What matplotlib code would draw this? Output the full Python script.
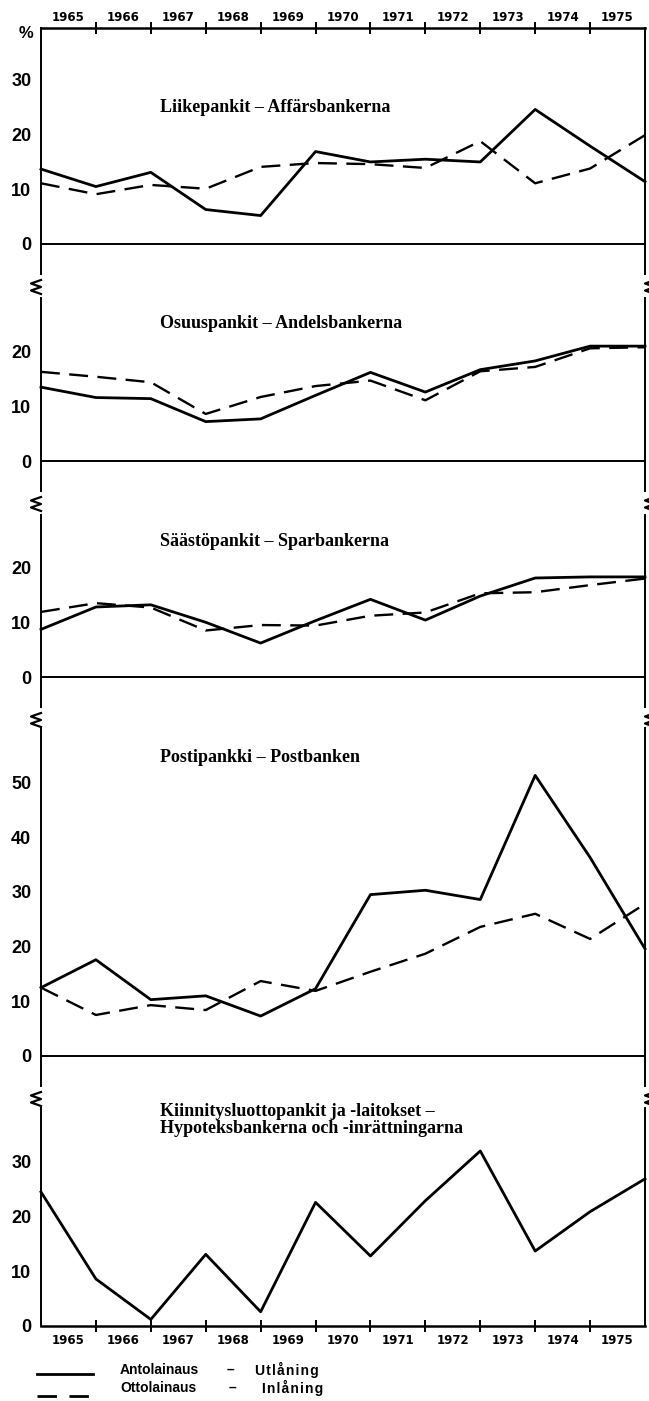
#!/usr/bin/env python3
"""Pankkiryhmien antolainauksen ja ottolainauksen vuosimuutos 1965-1975, %."""
import matplotlib
matplotlib.use("Agg")
import matplotlib.pyplot as plt
from matplotlib.lines import Line2D

plt.rcParams["font.family"] = ["Liberation Sans", "DejaVu Sans"]
plt.rcParams["font.weight"] = "bold"

years = ["1965", "1966", "1967", "1968", "1969", "1970",
         "1971", "1972", "1973", "1974", "1975"]
pts = list(range(12))  # vuosien rajakohdat

liike_out = [13.7, 10.5, 13.1, 6.3, 5.2, 16.9, 15.0, 15.5, 15.0, 24.6, 17.9, 11.4]
liike_in = [11.1, 9.1, 10.8, 10.1, 14.1, 14.8, 14.6, 13.9, 18.8, 11.1, 13.8, 19.9]
osuus_out = [13.5, 11.6, 11.4, 7.2, 7.7, 12.0, 16.2, 12.6, 16.7, 18.3, 21.0, 21.0]
osuus_in = [16.3, 15.4, 14.4, 8.6, 11.7, 13.7, 14.7, 11.1, 16.4, 17.2, 20.6, 20.8]
saasto_out = [8.7, 12.8, 13.2, 10.0, 6.2, 10.3, 14.2, 10.4, 14.8, 18.1, 18.3, 18.3]
saasto_in = [11.9, 13.5, 12.7, 8.5, 9.5, 9.4, 11.2, 11.8, 15.3, 15.5, 16.8, 18.0]
posti_out = [12.5, 17.6, 10.3, 11.0, 7.3, 12.3, 29.5, 30.3, 28.6, 51.3, 36.3, 19.6]
posti_in = [12.5, 7.5, 9.3, 8.4, 13.7, 11.9, 15.4, 18.7, 23.6, 26.0, 21.4, 27.8]
kiinn_out = [24.5, 8.6, 1.2, 13.1, 2.6, 22.6, 12.8, 22.9, 32.0, 13.7, 20.9, 26.9]

titles = ["Liikepankit – Affärsbankerna",
          "Osuuspankit – Andelsbankerna",
          "Säästöpankit – Sparbankerna",
          "Postipankki – Postbanken",
          "Kiinnitysluottopankit ja -laitokset –\nHypoteksbankerna och -inrättningarna"]
outs = [liike_out, osuus_out, saasto_out, posti_out, kiinn_out]
ins = [liike_in, osuus_in, saasto_in, posti_in, None]
yticks = [[0, 10, 20, 30], [0, 10, 20], [0, 10, 20],
          [0, 10, 20, 30, 40, 50], [0, 10, 20, 30]]
title_y = [25.0, 25.2, 24.8, 54.5, 37.6]

# asettelu pikseleinä: akselin yläpää ja nollaviiva
W, H = 649, 1401
LEFT, RIGHT = 41, 645
SCALE = 5.47        # px / prosenttiyksikkö
BREAK = 43          # nollaviivasta katkomerkkiin
SPINE_END = 30      # pystyviiva jatkuu nollan alle
layout = [(28, 244), (298, 461), (515, 677), (728, 1056), (1108, 1326)]


def squiggle(fig, cx, cy):
    xs = [cx + 5, cx - 5, cx + 5, cx - 5, cx + 5]
    ys = [cy - 7, cy - 3.5, cy, cy + 3.5, cy + 7]
    fig.add_artist(Line2D([x / W for x in xs], [1 - y / H for y in ys],
                          color="black", lw=1.6, transform=fig.transFigure))


def spaced(word):
    # harva kirjainväli kuten alkuperäisessä selitteessä
    return "\u200a".join(word)


def main():
    fig = plt.figure(figsize=(W / 100, H / 100), dpi=100)
    n = len(titles)
    for i in range(n):
        top, zero = layout[i]
        last = i == n - 1
        bottom = zero if last else zero + BREAK
        ax = fig.add_axes([LEFT / W, 1 - bottom / H,
                           (RIGHT - LEFT) / W, (bottom - top) / H])
        ymin, ymax = -(bottom - zero) / SCALE, (zero - top) / SCALE
        ax.set_xlim(0, 11)
        ax.set_ylim(ymin, ymax)

        ax.plot(pts, outs[i], color="black", lw=2.0, clip_on=False)
        if ins[i] is not None:
            ax.plot(pts, ins[i], color="black", lw=1.7, dashes=(8, 4), clip_on=False)

        ax.text(2.17, title_y[i], titles[i], family="Liberation Serif",
                fontsize=13, fontweight="bold", ha="left", va="center",
                linespacing=1.0)

        ax.set_yticks(yticks[i])
        ax.tick_params(axis="y", length=0, pad=7, labelsize=13)

        for side in ("left", "right"):
            ax.spines[side].set_linewidth(1.4)
            if not last:
                ax.spines[side].set_bounds(-SPINE_END / SCALE, ymax)
        ax.spines["top"].set_visible(i == 0)
        ax.spines["top"].set_linewidth(1.8)
        ax.spines["bottom"].set_visible(last)
        ax.spines["bottom"].set_linewidth(1.8)
        if not last:
            ax.axhline(0, color="black", lw=1.4)
            squiggle(fig, 36, zero + BREAK)
            squiggle(fig, 650, zero + BREAK)

        if i == 0 or last:
            ax.set_xticks(range(1, 11))
            ax.set_xticks([p + 0.5 for p in pts[:-1]], labels=years, minor=True)
            ax.tick_params(axis="x", which="major", direction="inout", length=8,
                           width=1.4, top=i == 0, bottom=last,
                           labeltop=False, labelbottom=False)
            ax.tick_params(axis="x", which="minor", length=0, labelsize=8.5,
                           top=False, bottom=False, labeltop=i == 0,
                           labelbottom=last, pad=3 if i == 0 else 6)
            for lab in ax.get_xticklabels(minor=True):
                lab.set_family(["DejaVu Sans"])
        else:
            ax.set_xticks([])

    fig.text(26 / W, 1 - 33 / H, "%", fontsize=12, ha="center", va="center")

    # selite
    fig.add_artist(Line2D([37 / W, 93 / W], [1 - 1374 / H] * 2, color="black",
                          lw=2.0, transform=fig.transFigure))
    fig.add_artist(Line2D([37 / W, 93 / W], [1 - 1396 / H] * 2, color="black",
                          lw=2.0, dashes=(7, 4.5), transform=fig.transFigure))
    leg = dict(fontsize=10, va="center", ha="left")
    fig.text(120 / W, 1 - 1370 / H, "Antolainaus", **leg)
    fig.text(227 / W, 1 - 1370 / H, "–", **leg)
    fig.text(255 / W, 1 - 1370 / H, spaced("Utlåning"), **leg)
    fig.text(120 / W, 1 - 1388 / H, "Ottolainaus", **leg)
    fig.text(229 / W, 1 - 1388 / H, "–", **leg)
    fig.text(262 / W, 1 - 1388 / H, spaced("Inlåning"), **leg)

    fig.savefig("out.png", dpi=100)


if __name__ == "__main__":
    main()
